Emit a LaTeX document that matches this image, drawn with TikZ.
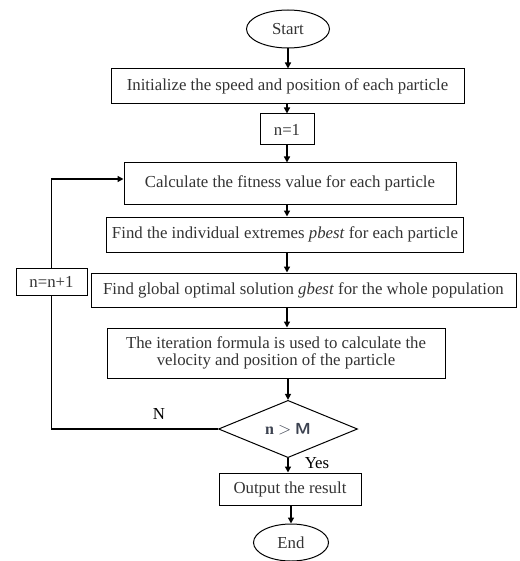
\documentclass[tikz,border=0pt]{standalone}
\usepackage{fontspec}
\setmainfont{Liberation Serif}
\usetikzlibrary{arrows.meta,shapes.geometric,positioning}
\definecolor{condtext}{HTML}{3C4250}

\begin{document}
\begin{tikzpicture}[
    x=1pt, y=-1pt,
    font=\fontsize{16.8}{17}\selectfont,
    box style/.style={rectangle, draw, line width=1pt, text=black!80, inner sep=2pt},
    end style/.style={ellipse, draw, line width=1pt, text=black!80, inner sep=0pt},
    arrow style/.style={line width=1.4pt, -{Triangle[length=6pt,width=6pt]}},
    back style/.style={line width=1.6pt}
]

% SAME BOUNDING BOX
\path[use as bounding box] (0,0) rectangle (519,561);

\node[end style, minimum width=83, minimum height=38] (start) at (288, 29) {Start};
\node[box style, minimum width=353, minimum height=35] (init) at (287.5, 86.5) {Initialize the speed and position of each particle};
\node[box style, minimum width=54, minimum height=31] (one) at (287, 129.5) {n=1};
\node[box style, minimum width=332, minimum height=41] (calc) at (290, 183.5) {Calculate the fitness value for each particle};
\node[box style, minimum width=357, minimum height=35] (pbest) at (285, 234.5) {Find the individual extremes \textit{pbest} for each particle};
\node[box style, minimum width=425, minimum height=34] (gbest) at (303.5, 290) {Find global optimal solution \textit{gbest} for the whole population};
\node[box style, minimum width=71, minimum height=27] (inc) at (51.5, 281.5) {n=n+1};
\node[box style, minimum width=338, minimum height=50, align=center, font=\fontsize{16.8}{16.5}\selectfont] (iter) at (276, 353)
    {The iteration formula is used to calculate the\\velocity and position of the particle};
\node[diamond, draw, line width=1pt, inner sep=0pt, minimum width=139, minimum height=56,
    text=condtext, font=\fontsize{16}{17}\selectfont\bfseries] (cond) at (288, 429) {n $>$ \textsf{M}};
\node[box style, minimum width=142, minimum height=32] (out) at (290, 489) {Output the result};
\node[end style, minimum width=75, minimum height=37] (stop) at (291, 542.5) {End};

\node (no) at (159, 414) {N};
\node (yes) at (317, 463) {Yes};

\draw[arrow style] (start.south) -- (start.south |- init.north);
\draw[arrow style] (init.south -| one.north) -- (one.north);
\draw[arrow style] (one.south) -- (one.south |- calc.north);
\draw[arrow style] (calc.south -| one.south) -- (one.south |- pbest.north);
\draw[arrow style] (pbest.south -| one.south) -- (one.south |- gbest.north);
\draw[arrow style] (gbest.south -| one.south) -- (one.south |- iter.north);
\draw[arrow style] (iter.south -| cond.north) -- (cond.north);
\draw[arrow style] (cond.south) -- (cond.south |- out.north);
\draw[arrow style] (out.south -| stop.north) -- (stop.north);

\draw[back style] (cond.west) -| (inc.south);
\draw[back style, arrow style] (inc.north) |- ([yshift=4.5pt]calc.west);

\end{tikzpicture}
\end{document}
